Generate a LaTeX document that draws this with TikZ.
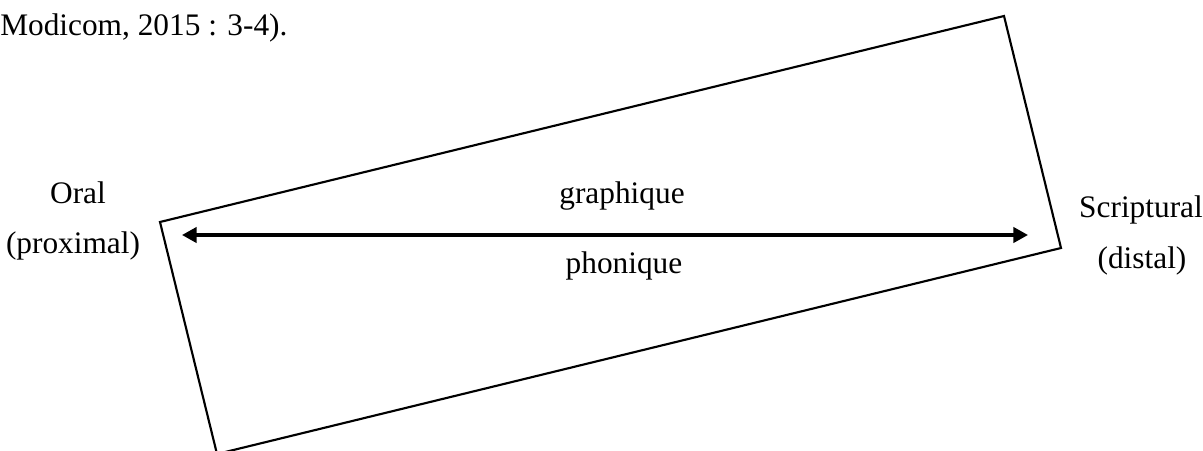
\documentclass[tikz,border=0pt]{standalone}
\usepackage{fontspec}
\setmainfont{Liberation Serif}
\usetikzlibrary{arrows.meta}
\begin{document}
\begin{tikzpicture}[x=0.75pt,y=-0.75pt,
  lbl/.style={inner sep=0pt,anchor=base,font=\fontsize{23.5}{28}\selectfont},
  frame/.style={line width=1.6pt,line join=miter},
  axis/.style={line width=2.4pt,{Triangle[length=11pt,width=11.5pt]}-{Triangle[length=11pt,width=11.5pt]}}]
\useasboundingbox (0,0) rectangle (1203,450);
\node[lbl,anchor=base west] (src) at (0,35) {Modicom, 2015 : 3-4).};
\coordinate (A) at (160,222);
\coordinate (B) at (1004,16);
\coordinate (C) at (1061,248);
\coordinate (D) at (217,454);
\draw[frame] (A) -- (B) -- (C) -- (D) -- cycle;
\coordinate (L) at (182,235);
\coordinate (R) at (1028,235);
\draw[axis] (L) -- (R);
\node[lbl] (oral) at (78,203) {Oral};
\node[lbl] (prox) at (73,253) {(proximal)};
\node[lbl] (graph) at (622,203) {graphique};
\node[lbl] (phon) at (624,273) {phonique};
\node[lbl] (scr) at (1141,217) {Scriptural};
\node[lbl] (dist) at (1142,268) {(distal)};
\end{tikzpicture}
\end{document}
